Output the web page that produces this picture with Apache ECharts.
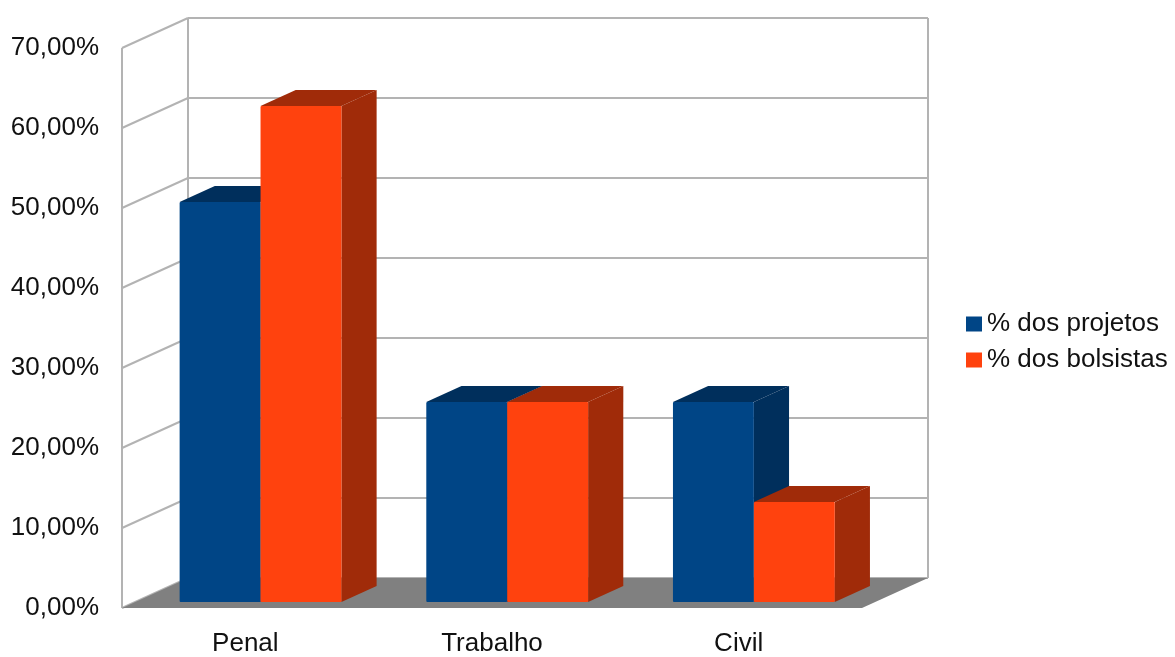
<!DOCTYPE html>
<html>
<head>
<meta charset="utf-8">
<script src="https://cdn.jsdelivr.net/npm/echarts@6/dist/echarts.min.js"></script>
<style>
html,body{margin:0;padding:0;background:#fff;}
#chart{width:1175px;height:657px;}
</style>
</head>
<body>
<div id="chart"></div>
<script>
const categories = ['Penal', 'Trabalho', 'Civil'];
const projetos = [50, 25, 25];
const bolsistas = [62, 25, 12.5];
const seriesNames = ['% dos projetos', '% dos bolsistas'];
const yTicks = [0, 10, 20, 30, 40, 50, 60, 70];

const FRONT = ['#004586', '#ff420e'];
const DARK = ['#002f5c', '#a02b09'];
const DX = 66, DY = 30;          // wall depth (oblique)
const BAR_FRONT = 0.2, BAR_BACK = 0.733; // bar depth fractions
const FONT = 'Liberation Sans, Arial, sans-serif';

function bgRender(params, api) {
  const bw = api.size([1, 0])[0];
  const x0 = api.coord([0, 0])[0] - bw / 2;
  const xR = api.coord([categories.length - 1, 0])[0] + bw / 2;
  const y0 = api.coord([0, 0])[1];
  const yTop = api.coord([0, yTicks[yTicks.length - 1]])[1];
  const ls = { stroke: '#b3b3b3', lineWidth: 2 };
  const children = [];
  children.push({ type: 'line', shape: { x1: x0 + DX, y1: y0 - DY, x2: x0 + DX, y2: yTop - DY }, style: ls });
  children.push({ type: 'line', shape: { x1: xR + DX, y1: y0 - DY, x2: xR + DX, y2: yTop - DY }, style: ls });
  children.push({ type: 'line', shape: { x1: x0, y1: y0, x2: x0, y2: yTop }, style: ls });
  yTicks.forEach(function (t) {
    const y = api.coord([0, t])[1];
    children.push({ type: 'line', shape: { x1: x0, y1: y, x2: x0 + DX, y2: y - DY }, style: ls });
    children.push({ type: 'line', shape: { x1: x0 + DX, y1: y - DY, x2: xR + DX, y2: y - DY }, style: ls });
  });
  children.push({
    type: 'polygon',
    shape: { points: [[x0, y0], [x0 + DX, y0 - DY], [xR + DX, y0 - DY], [xR, y0]] },
    style: { fill: '#808080' }
  });
  return { type: 'group', children: children };
}

function barRender(s) {
  return function (params, api) {
    const c = api.value(0), v = api.value(1);
    const base = api.coord([c, 0]);
    const top = api.coord([c, v]);
    const bw = api.size([1, 0])[0];
    const w = bw * 0.328;
    const ox = DX * BAR_FRONT, oy = -DY * BAR_FRONT;
    const dx = DX * (BAR_BACK - BAR_FRONT), dy = -DY * (BAR_BACK - BAR_FRONT);
    const cx = base[0] + ox + 2;
    const x1 = s === 0 ? cx - w : cx;
    const x2 = x1 + w;
    const yb = base[1] + oy, yt = top[1] + oy;
    return {
      type: 'group',
      children: [
        { type: 'polygon', shape: { points: [[x2, yb], [x2 + dx, yb + dy], [x2 + dx, yt + dy], [x2, yt]] }, style: { fill: DARK[s] } },
        { type: 'polygon', shape: { points: [[x1, yt], [x1 + dx, yt + dy], [x2 + dx, yt + dy], [x2, yt]] }, style: { fill: DARK[s] } },
        { type: 'rect', shape: { x: x1, y: yt, width: w, height: yb - yt, r: 1 }, style: { fill: FRONT[s] } }
      ]
    };
  };
}

const chart = echarts.init(document.getElementById('chart'), null, { renderer: 'canvas' });
chart.setOption({
  animation: false,
  color: FRONT,
  grid: { left: 122, top: 48, width: 740, height: 560, containLabel: false },
  legend: {
    data: seriesNames,
    orient: 'vertical',
    left: 961,
    top: 306,
    itemWidth: 16,
    itemHeight: 15,
    itemGap: 10,
    icon: 'rect',
    textStyle: { fontFamily: FONT, fontSize: 26, color: '#111' }
  },
  xAxis: {
    type: 'category',
    data: categories,
    axisLine: { show: false },
    axisTick: { show: false },
    axisLabel: { margin: 23, fontFamily: FONT, fontSize: 26, color: '#111' },
    splitLine: { show: false }
  },
  yAxis: {
    type: 'value',
    min: 0, max: 70, interval: 10,
    axisLine: { show: false },
    axisTick: { show: false },
    splitLine: { show: false },
    axisLabel: {
      margin: 23, fontFamily: FONT, fontSize: 26, color: '#111',
      formatter: function (v) { return v.toFixed(2).replace('.', ',') + '%'; }
    }
  },
  series: [
    { type: 'custom', name: 'bg', renderItem: bgRender, data: [[0, 0]], z: 1, silent: true },
    { type: 'custom', name: seriesNames[0], renderItem: barRender(0), itemStyle: { color: FRONT[0] },
      data: categories.map(function (c, i) { return [i, projetos[i]]; }), z: 2 },
    { type: 'custom', name: seriesNames[1], renderItem: barRender(1), itemStyle: { color: FRONT[1] },
      data: categories.map(function (c, i) { return [i, bolsistas[i]]; }), z: 3 }
  ]
});
</script>
</body>
</html>
